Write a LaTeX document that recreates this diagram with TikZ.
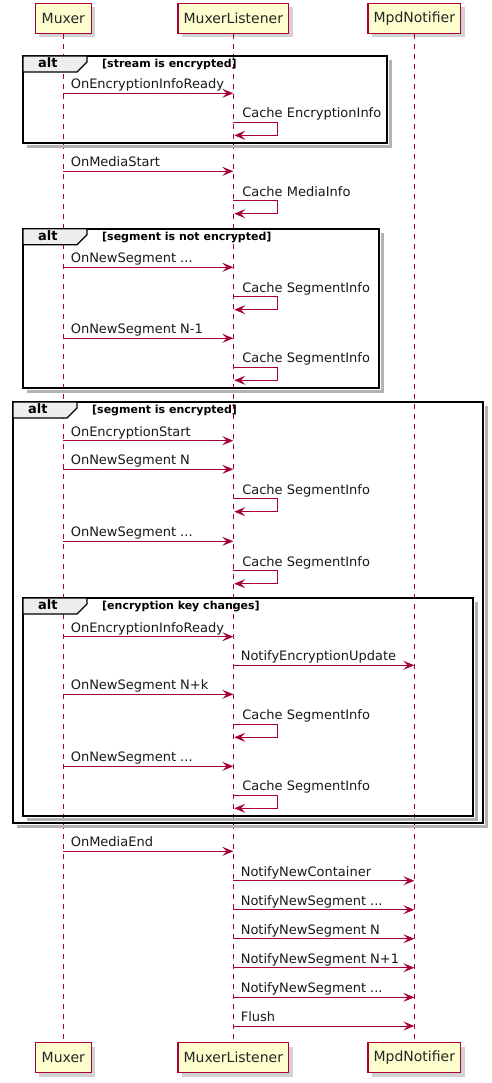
\documentclass[tikz,border=0pt]{standalone}
\usepackage{fontspec}
\setmainfont{DejaVu Sans}
\usetikzlibrary{positioning,calc,arrows.meta,shadows}

\definecolor{umlred}{HTML}{A80036}
\definecolor{umlfill}{HTML}{FEFECE}
\definecolor{tabgray}{HTML}{EEEEEE}

\newcommand{\tdots}{...}
% message from lifeline to lifeline
\newcommand{\msg}[4]{%
  \draw[msgline] (#1 |- 0,#3) -- node[msgtext, pos=0, xshift=7pt, yshift=4.5pt] {#4} (#2 |- 0,#3);}
% message to itself
\newcommand{\selfmsg}[2]{%
  \draw[msgline] (lst |- 0,#1) -- node[msgtext, pos=0, xshift=8.5pt, yshift=4.5pt] {#2} ++(44,0) -- ++(0,13) -- ++(-43,0);}
% alt fragment
\newcommand{\altframe}[5]{%
  \draw[frameshade] (#3+3.5,#2+4) -- (#3+3.5,#4+3.5) -- (#1+4,#4+3.5);
  \draw[frame] (#1,#2) rectangle (#3,#4);
  \draw[line width=1.2pt, fill=tabgray] (#1,#2) -- (#1+64,#2) -- (#1+64,#2+6) -- (#1+54,#2+16) -- (#1,#2+16) -- cycle;
  \node[alttext, font=\bfseries\fontsize{13}{15}\selectfont] at (#1+15,#2+11.5) {alt};
  \node[alttext, font=\bfseries\fontsize{11}{13}\selectfont] at (#1+79,#2+11.5) {[#5]};}

\begin{document}
\begin{tikzpicture}[x=1pt,y=-1pt,
    actor/.style={draw=umlred, line width=1.2pt, fill=umlfill, minimum height=30pt, inner sep=0pt,
      font=\fontsize{14}{16}\selectfont, text=black!85,
      drop shadow={shadow xshift=4pt, shadow yshift=-4pt, fill=black!35}},
    life/.style={draw=umlred, line width=1pt, dash pattern=on 5pt off 5pt},
    msgline/.style={draw=umlred, line width=1pt, -{Stealth[length=11pt,width=9pt,inset=4.5pt]}},
    msgtext/.style={anchor=base west, inner sep=0pt, font=\fontsize{13}{15}\selectfont, text=black!90},
    alttext/.style={anchor=base west, inner sep=0pt},
    frame/.style={draw=black, line width=1.8pt},
    frameshade/.style={draw=black!30, line width=3pt}]

  \useasboundingbox (0,0) rectangle (492,1083);
  \fill[white] (0,0) rectangle (492,1083);

  % participants
  \node[actor, minimum width=56pt] (mux) at (63.3,18.3) {Muxer};
  \node[actor, minimum width=110.6pt] (lst) at (233.3,18.3) {MuxerListener};
  \node[actor, minimum width=92.7pt] (mpd) at (414.3,18.3) {MpdNotifier};
  \node[actor, minimum width=56pt] (muxB) at (63.3,1057.7) {Muxer};
  \node[actor, minimum width=110.6pt] (lstB) at (233.3,1057.7) {MuxerListener};
  \node[actor, minimum width=92.7pt] (mpdB) at (414.3,1057.7) {MpdNotifier};

  \draw[life] (mux) -- (muxB);
  \draw[life] (lst) -- (lstB);
  \draw[life] (mpd) -- (mpdB);

  % fragments
  \altframe{23}{56}{387}{143}{stream is encrypted}
  \altframe{23}{228.7}{379}{387.7}{segment is not encrypted}
  \altframe{13}{402}{483}{823}{segment is encrypted}
  \altframe{23}{598}{472.7}{815.7}{encryption key changes}

  % messages
  \msg{mux}{lst}{93.3}{OnEncryptionInfoReady}
  \selfmsg{122.3}{Cache EncryptionInfo}
  \msg{mux}{lst}{171.3}{OnMediaStart}
  \selfmsg{200.7}{Cache MediaInfo}
  \msg{mux}{lst}{267.3}{OnNewSegment \tdots}
  \selfmsg{296.7}{Cache SegmentInfo}
  \msg{mux}{lst}{338.3}{OnNewSegment N-1}
  \selfmsg{367.3}{Cache SegmentInfo}
  \msg{mux}{lst}{440.7}{OnEncryptionStart}
  \msg{mux}{lst}{469.3}{OnNewSegment N}
  \selfmsg{498.7}{Cache SegmentInfo}
  \msg{mux}{lst}{541.3}{OnNewSegment \tdots}
  \selfmsg{570.7}{Cache SegmentInfo}
  \msg{mux}{lst}{636.7}{OnEncryptionInfoReady}
  \msg{lst}{mpd}{665.3}{NotifyEncryptionUpdate}
  \msg{mux}{lst}{694.3}{OnNewSegment N+k}
  \selfmsg{724.3}{Cache SegmentInfo}
  \msg{mux}{lst}{766.3}{OnNewSegment \tdots}
  \selfmsg{795.3}{Cache SegmentInfo}
  \msg{mux}{lst}{851.3}{OnMediaEnd}
  \foreach \y/\txt in {880.7/NotifyNewContainer, 909.7/NotifyNewSegment \tdots, 938.7/NotifyNewSegment N,
      967.7/NotifyNewSegment N+1, 997.3/NotifyNewSegment \tdots, 1026/Flush}
    \msg{lst}{mpd}{\y}{\txt};
\end{tikzpicture}
\end{document}
